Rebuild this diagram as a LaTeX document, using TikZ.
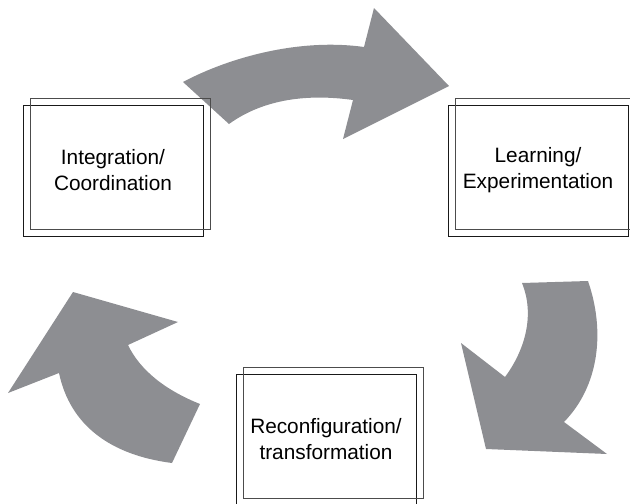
\documentclass[tikz,border=0pt]{standalone}
\usepackage{fontspec}
\setmainfont{Liberation Sans}
\usetikzlibrary{positioning}
\definecolor{arrowgray}{RGB}{141,142,146}
\tikzset{node distance=3cm, auto,
  stage/.style={draw=black!90, line width=0.8pt, minimum width=180pt, minimum height=131pt,
    inner sep=0pt, outer sep=0pt, align=center, font=\fontsize{20.8}{26}\selectfont},
  backframe/.style={draw=black!70, line width=0.8pt},
  bigarrow/.style={fill=arrowgray, draw=none}}

\begin{document}
\begin{tikzpicture}[x=1pt, y=-1pt]
  \useasboundingbox (0,0) rectangle (630,504);
  % the three curved arrows
  \fill[bigarrow] (183,82) .. controls (230,57) and (300,38) .. (364,47) -- (374,8) -- (449,86)
     -- (343,139) -- (353,100) .. controls (310,94) and (265,98) .. (229,124) -- cycle;
  \fill[bigarrow] (522,283) -- (588,281) .. controls (605,330) and (600,385) .. (564,422)
     -- (607,454) -- (486,449) -- (461,343) -- (505,377) .. controls (525,350) and (535,315) .. (522,283) -- cycle;
  \fill[bigarrow] (172,463) -- (200,404) .. controls (165,390) and (140,370) .. (128,345)
     -- (178,322) -- (73,292) -- (8,393) -- (59,373) .. controls (70,425) and (110,455) .. (172,463) -- cycle;
  % stages
  \node[stage] (int) at (113,170.5) {Integration/\\Coordination};
  \node[stage, right=245pt of int] (learn) {Learning/\\Experimentation};
  \node[stage, below right=138pt and 33pt of int] (reconf) {Reconfiguration/\\transformation};
  \foreach \n in {int,learn,reconf}
    \draw[backframe] ([shift={(7,-7)}]\n.south west) rectangle ([shift={(7,-7)}]\n.north east);
\end{tikzpicture}
\end{document}
